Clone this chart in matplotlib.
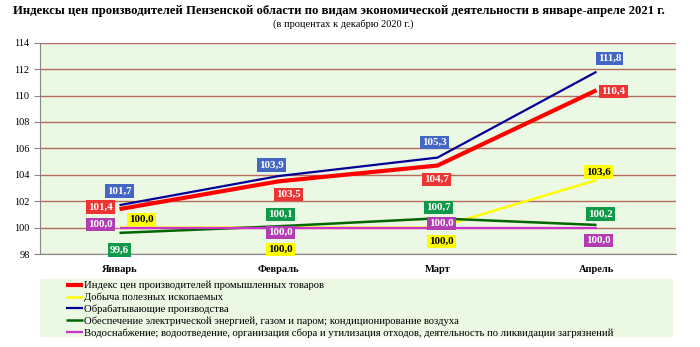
import matplotlib.pyplot as plt
from matplotlib.patches import Rectangle

plt.rcParams['font.family'] = ['Liberation Serif', 'DejaVu Serif']

months = ["Январь", "Февраль", "Март", "Апрель"]
series_names = [
    "Индекс цен производителей промышленных товаров",
    "Добыча полезных ископаемых",
    "Обрабатывающие производства",
    "Обеспечение электрической энергией, газом и паром; кондиционирование воздуха",
    "Водоснабжение; водоотведение, организация сбора и утилизация отходов, деятельность по ликвидации загрязнений",
]
total = [101.4, 103.5, 104.7, 110.4]
mining = [100.0, 100.0, 100.0, 103.6]
manufacturing = [101.7, 103.9, 105.3, 111.8]
energy = [99.6, 100.1, 100.7, 100.2]
water = [100.0, 100.0, 100.0, 100.0]
values = [total, mining, manufacturing, energy, water]
yticks = list(range(98, 115, 2))

line_colors = ["#ff0000", "#ffff00", "#000099", "#006600", "#cc33cc"]
line_widths = [3.0, 1.8, 1.6, 1.8, 1.6]
box_colors = ["#ee3333", "#ffff00", "#4466c4", "#11994a", "#b23cb2"]
text_colors = ["white", "black", "white", "white", "white"]
# label offsets in pixels (dx, dy) per series per month
offsets = [
    [(-19, 2), (10, -13), (-1, -14), (17, -1)],
    [(22, 8), (2, -22), (4, -14), (2, 8)],
    [(0, 14), (-7, 11), (-3, 15), (13, 13)],
    [(0, -17), (2, 12), (1, 11), (4, 11)],
    [(-19, 3), (2, -5), (4, 4), (2, -13)],
]

fig = plt.figure(figsize=(7, 3.47), dpi=100)
ax = fig.add_axes([40 / 700, 1 - 254 / 347, 636 / 700, 211.3 / 347])
ax.set_facecolor("#ebf8e3")

x = [0.5, 1.5, 2.5, 3.5]
handles = []
for i in range(5):
    h, = ax.plot(x, values[i], color=line_colors[i], lw=line_widths[i],
                 solid_capstyle="butt", zorder=3 + (i == 0))
    handles.append(h)

for i in range(5):
    for j in range(4):
        dx, dy = offsets[i][j]
        ax.annotate(f"{values[i][j]:.1f}".replace(".", ","), (x[j], values[i][j]),
                    xytext=(dx, dy), textcoords="offset pixels",
                    ha="center", va="center", fontsize=8, fontweight="bold",
                    color=text_colors[i], zorder=6,
                    bbox=dict(boxstyle="square,pad=0.2", fc=box_colors[i],
                              ec="none"))

ax.set_xlim(0, 4)
ax.set_ylim(98, 114)
ax.set_yticks(yticks)
ax.set_xticks(x)
ax.set_xticklabels(months, fontweight="bold")
ax.tick_params(axis="x", length=0, pad=8, labelsize=7.5)
ax.tick_params(axis="y", length=4, color="#888888", labelsize=7.5)
ax.grid(axis="y", color="#b86a5e", lw=1)
for s in ["top", "right"]:
    ax.spines[s].set_visible(False)
ax.spines["left"].set_color("#888888")
ax.spines["bottom"].set_color("#888888")

fig.text(0.484, 1 - 11 / 347, "Индексы цен производителей Пензенской области по видам экономической деятельности в январе-апреле 2021 г.",
         ha="center", va="center", fontsize=9.2, fontweight="bold")
fig.text(0.49, 1 - 24 / 347, "(в процентах к декабрю 2020 г.)",
         ha="center", va="center", fontsize=7.5)

fig.patches.append(Rectangle((40 / 700, 1 - 337 / 347), 633 / 700, 58 / 347,
                             transform=fig.transFigure, fc="#ebf8e3", ec="none",
                             zorder=0))
fig.legend(handles, series_names, loc="upper left",
           bbox_to_anchor=(66 / 700, 1 - 281 / 347), frameon=False,
           fontsize=7.7, handlelength=1.6, handletextpad=0.1,
           labelspacing=0.22, borderpad=0, borderaxespad=0)

fig.savefig("out.png")
plt.close(fig)
